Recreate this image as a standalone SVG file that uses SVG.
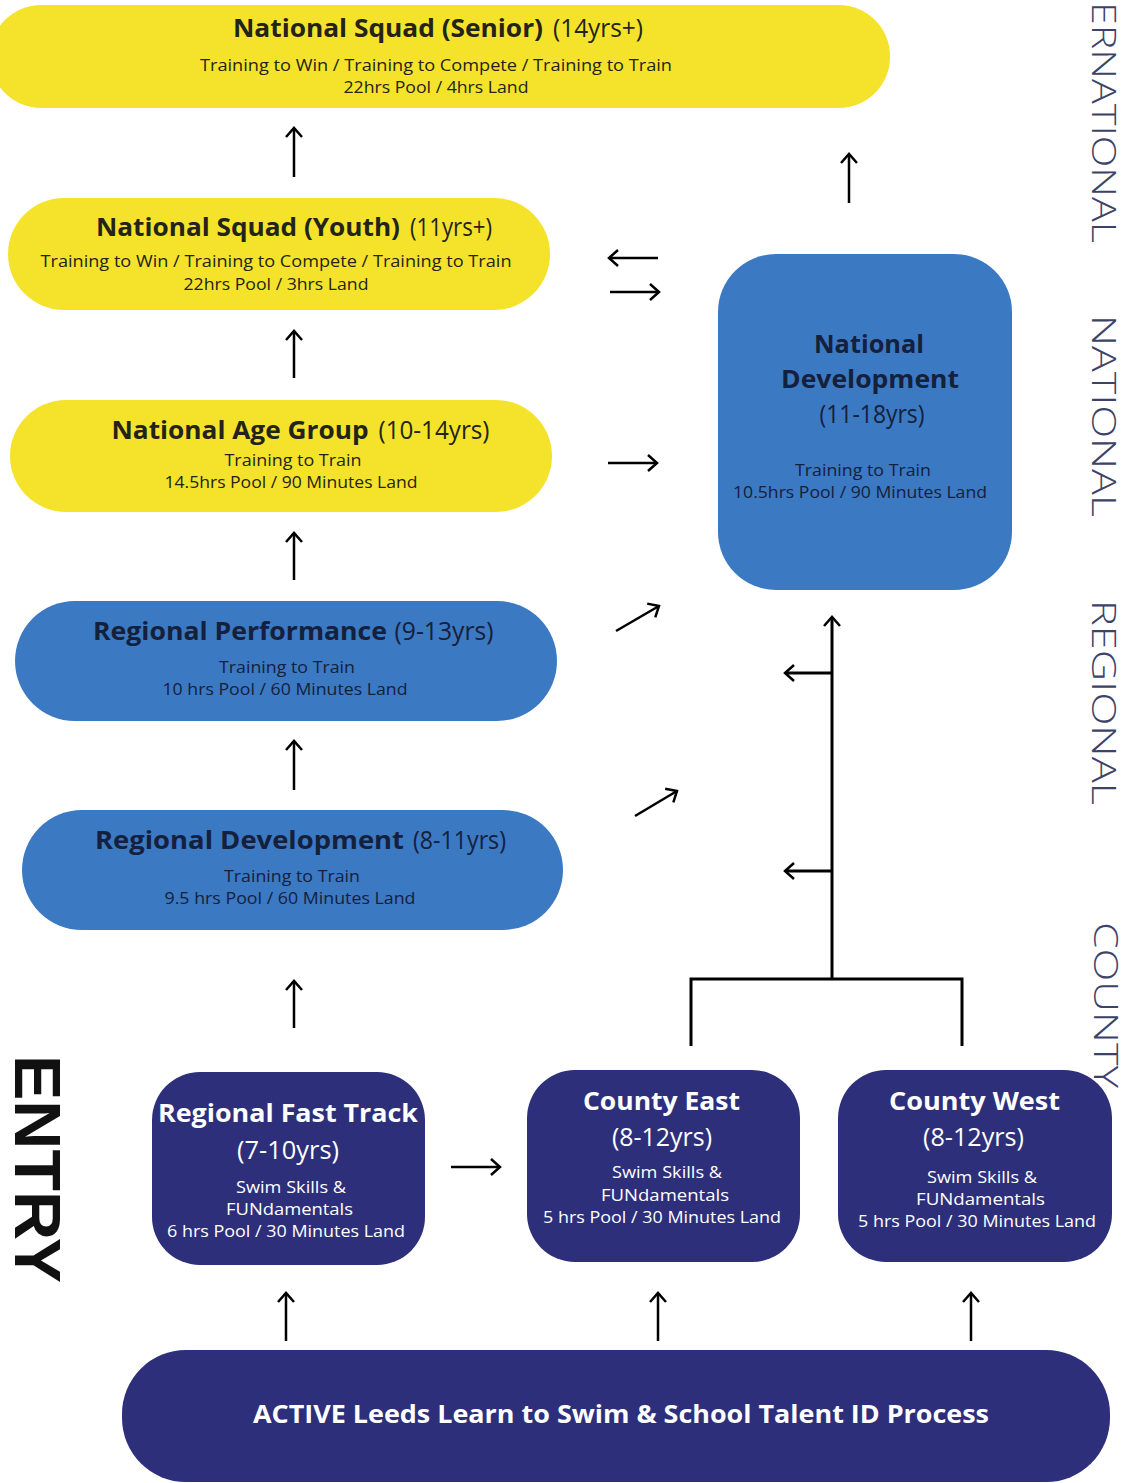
<svg xmlns="http://www.w3.org/2000/svg" width="1128" height="1483" viewBox="0 0 1128 1483">
<defs>
<style>
.yel{fill:#f4e32a}
.blu{fill:#3b79c2}
.nav{fill:#2d2f7b}
.t{font-family:"Open Sans","Noto Sans","Liberation Sans",sans-serif;text-anchor:middle}
.b{font-weight:700}
.dk{fill:#23231a}
.bk{fill:#15203c}
.wh{fill:#ffffff}
.big{font-size:25px}
.age{font-size:25px;font-weight:400}
.sm{font-size:17px}
.ln{stroke:#000;stroke-width:2.5;fill:none}
.tr{stroke:#000;stroke-width:3;fill:none}
.vl{font-family:"Open Sans","Noto Sans","Liberation Sans",sans-serif;font-size:33px;font-weight:300;fill:#3c4268}
</style>
<marker id="ah" viewBox="-12 -10 14 20" refX="0" refY="0" markerWidth="14" markerHeight="20" markerUnits="userSpaceOnUse" orient="auto">
<path d="M-9,-8 L0,0 L-9,8" fill="none" stroke="#000" stroke-width="2.5"/>
</marker>
</defs>
<rect width="1128" height="1483" fill="#ffffff"/>

<g id="senior">
<rect class="yel" x="-10" y="5" width="900" height="103" rx="51"/>
<text class="t big dk" y="37"><tspan class="b" x="388" textLength="310" lengthAdjust="spacingAndGlyphs">National Squad (Senior)</tspan><tspan x="598" textLength="90" lengthAdjust="spacingAndGlyphs">(14yrs+)</tspan></text>
<text class="t sm dk" x="436" y="71" textLength="472" lengthAdjust="spacingAndGlyphs">Training to Win / Training to Compete / Training to Train</text>
<text class="t sm dk" x="436" y="93" textLength="185" lengthAdjust="spacingAndGlyphs">22hrs Pool / 4hrs Land</text>
</g>

<g id="youth">
<rect class="yel" x="8" y="198" width="542" height="112" rx="56"/>
<text class="t big dk" y="236"><tspan class="b" x="248" textLength="304" lengthAdjust="spacingAndGlyphs">National Squad (Youth)</tspan><tspan x="451" textLength="82" lengthAdjust="spacingAndGlyphs">(11yrs+)</tspan></text>
<text class="t sm dk" x="276" y="267" textLength="471" lengthAdjust="spacingAndGlyphs">Training to Win / Training to Compete / Training to Train</text>
<text class="t sm dk" x="276" y="290" textLength="185" lengthAdjust="spacingAndGlyphs">22hrs Pool / 3hrs Land</text>
</g>

<g id="agegroup">
<rect class="yel" x="10" y="400" width="542" height="112" rx="56"/>
<text class="t big dk" y="439"><tspan class="b" x="240" textLength="257" lengthAdjust="spacingAndGlyphs">National Age Group</tspan><tspan x="434" textLength="111" lengthAdjust="spacingAndGlyphs">(10-14yrs)</tspan></text>
<text class="t sm dk" x="293" y="466" textLength="137" lengthAdjust="spacingAndGlyphs">Training to Train</text>
<text class="t sm dk" x="291" y="488" textLength="253" lengthAdjust="spacingAndGlyphs">14.5hrs Pool / 90 Minutes Land</text>
</g>

<g id="regperf">
<rect class="blu" x="15" y="601" width="542" height="120" rx="60"/>
<text class="t big bk" y="640"><tspan class="b" x="240" textLength="294" lengthAdjust="spacingAndGlyphs">Regional Performance</tspan><tspan x="444" textLength="99" lengthAdjust="spacingAndGlyphs">(9-13yrs)</tspan></text>
<text class="t sm bk" x="287" y="673" textLength="136" lengthAdjust="spacingAndGlyphs">Training to Train</text>
<text class="t sm bk" x="285" y="695" textLength="245" lengthAdjust="spacingAndGlyphs">10 hrs Pool / 60 Minutes Land</text>
</g>

<g id="regdev">
<rect class="blu" x="22" y="810" width="541" height="120" rx="60"/>
<text class="t big bk" y="849"><tspan class="b" x="249.5" textLength="309" lengthAdjust="spacingAndGlyphs">Regional  Development</tspan><tspan x="459.5" textLength="93" lengthAdjust="spacingAndGlyphs">(8-11yrs)</tspan></text>
<text class="t sm bk" x="292" y="882" textLength="136" lengthAdjust="spacingAndGlyphs">Training to Train</text>
<text class="t sm bk" x="290" y="904" textLength="251" lengthAdjust="spacingAndGlyphs">9.5 hrs Pool / 60 Minutes Land</text>
</g>

<g id="natdev">
<rect class="blu" x="718" y="254" width="294" height="336" rx="58"/>
<text class="t big b bk" x="869" y="353" textLength="110" lengthAdjust="spacingAndGlyphs">National</text>
<text class="t big b bk" x="870" y="388" textLength="178" lengthAdjust="spacingAndGlyphs">Development</text>
<text class="t age bk" x="872" y="423" textLength="105" lengthAdjust="spacingAndGlyphs">(11-18yrs)</text>
<text class="t sm bk" x="863" y="476" textLength="136" lengthAdjust="spacingAndGlyphs">Training to Train</text>
<text class="t sm bk" x="860" y="498" textLength="254" lengthAdjust="spacingAndGlyphs">10.5hrs Pool / 90 Minutes Land</text>
</g>

<g id="fasttrack">
<rect class="nav" x="152" y="1072" width="273" height="193" rx="48"/>
<text class="t big b wh" x="288" y="1122" textLength="260" lengthAdjust="spacingAndGlyphs">Regional Fast Track</text>
<text class="t age wh" x="288" y="1159" textLength="102" lengthAdjust="spacingAndGlyphs">(7-10yrs)</text>
<text class="t sm wh" x="291" y="1193" textLength="110" lengthAdjust="spacingAndGlyphs">Swim Skills &amp;</text>
<text class="t sm wh" x="289.5" y="1215" textLength="127" lengthAdjust="spacingAndGlyphs">FUNdamentals</text>
<text class="t sm wh" x="286" y="1237" textLength="238" lengthAdjust="spacingAndGlyphs">6 hrs Pool / 30 Minutes Land</text>
</g>

<g id="countyeast">
<rect class="nav" x="527" y="1070" width="273" height="192" rx="48"/>
<text class="t big b wh" x="661.5" y="1110" textLength="157" lengthAdjust="spacingAndGlyphs">County East</text>
<text class="t age wh" x="662" y="1146" textLength="100" lengthAdjust="spacingAndGlyphs">(8-12yrs)</text>
<text class="t sm wh" x="667" y="1178" textLength="110" lengthAdjust="spacingAndGlyphs">Swim Skills &amp;</text>
<text class="t sm wh" x="665" y="1201" textLength="128" lengthAdjust="spacingAndGlyphs">FUNdamentals</text>
<text class="t sm wh" x="662" y="1223" textLength="238" lengthAdjust="spacingAndGlyphs">5 hrs Pool / 30 Minutes Land</text>
</g>

<g id="countywest">
<rect class="nav" x="838" y="1070" width="274" height="192" rx="48"/>
<text class="t big b wh" x="974.5" y="1110" textLength="171" lengthAdjust="spacingAndGlyphs">County West</text>
<text class="t age wh" x="973.5" y="1146" textLength="101" lengthAdjust="spacingAndGlyphs">(8-12yrs)</text>
<text class="t sm wh" x="982" y="1183" textLength="110" lengthAdjust="spacingAndGlyphs">Swim Skills &amp;</text>
<text class="t sm wh" x="980.5" y="1205" textLength="129" lengthAdjust="spacingAndGlyphs">FUNdamentals</text>
<text class="t sm wh" x="977" y="1227" textLength="238" lengthAdjust="spacingAndGlyphs">5 hrs Pool / 30 Minutes Land</text>
</g>

<g id="activeleeds">
<rect class="nav" x="122" y="1350" width="988" height="132" rx="64"/>
<text class="t big b wh" x="621" y="1423" textLength="736" lengthAdjust="spacingAndGlyphs">ACTIVE Leeds Learn to Swim &amp; School Talent ID Process</text>
</g>

<g id="labels">
<text class="vl" transform="translate(1092,2) rotate(90)" textLength="241" lengthAdjust="spacingAndGlyphs">ERNATIONAL</text>
<text class="vl" transform="translate(1092,315) rotate(90)" textLength="202" lengthAdjust="spacingAndGlyphs">NATIONAL</text>
<text class="vl" transform="translate(1092,600) rotate(90)" textLength="205" lengthAdjust="spacingAndGlyphs">REGIONAL</text>
<text class="vl" transform="translate(1094,922) rotate(90)" textLength="166" lengthAdjust="spacingAndGlyphs">COUNTY</text>
<text font-family="Liberation Sans, Arial, sans-serif" font-size="64" font-weight="700" fill="#111" transform="translate(15,1055) rotate(90)" textLength="228" lengthAdjust="spacingAndGlyphs">ENTRY</text>
</g>

<g id="connectors">
<line class="ln" x1="294" y1="177" x2="294" y2="128" marker-end="url(#ah)"/>
<line class="ln" x1="849" y1="203" x2="849" y2="154" marker-end="url(#ah)"/>
<line class="ln" x1="658" y1="258" x2="609" y2="258" marker-end="url(#ah)"/>
<line class="ln" x1="610" y1="292" x2="659" y2="292" marker-end="url(#ah)"/>
<line class="ln" x1="294" y1="378" x2="294" y2="331" marker-end="url(#ah)"/>
<line class="ln" x1="608" y1="463" x2="657" y2="463" marker-end="url(#ah)"/>
<line class="ln" x1="294" y1="580" x2="294" y2="533" marker-end="url(#ah)"/>
<line class="ln" x1="616" y1="631" x2="659" y2="606" marker-end="url(#ah)"/>
<line class="ln" x1="294" y1="790" x2="294" y2="741" marker-end="url(#ah)"/>
<line class="ln" x1="635" y1="816" x2="677" y2="791" marker-end="url(#ah)"/>
<line class="ln" x1="294" y1="1028" x2="294" y2="981" marker-end="url(#ah)"/>
<line class="tr" x1="832" y1="979" x2="832" y2="617" marker-end="url(#ah)"/>
<line class="tr" x1="832" y1="673" x2="785" y2="673" marker-end="url(#ah)"/>
<line class="tr" x1="832" y1="871" x2="785" y2="871" marker-end="url(#ah)"/>
<polyline class="tr" points="691,1046 691,979 962,979 962,1046"/>
<line class="ln" x1="451" y1="1167" x2="500" y2="1167" marker-end="url(#ah)"/>
<line class="ln" x1="286" y1="1341" x2="286" y2="1293" marker-end="url(#ah)"/>
<line class="ln" x1="658" y1="1341" x2="658" y2="1293" marker-end="url(#ah)"/>
<line class="ln" x1="971" y1="1341" x2="971" y2="1293" marker-end="url(#ah)"/>
</g>
</svg>
